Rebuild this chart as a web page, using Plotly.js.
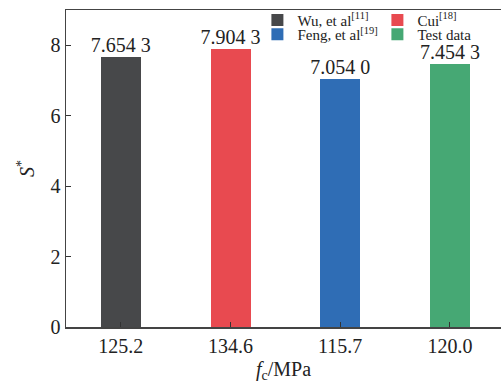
<!DOCTYPE html>
<html>
<head>
<meta charset="utf-8">
<script src="https://cdn.plot.ly/plotly-3.0.1.min.js"></script>
<style>html,body{margin:0;padding:0;background:#fff;}#chart{width:501px;height:385px;}</style>
</head>
<body>
<div id="chart"></div>
<script>
var categories = ['125.2', '134.6', '115.7', '120.0'];
var seriesNames = ['Wu, et al<sup>[11]</sup>', 'Cui<sup>[18]</sup>', 'Feng, et al<sup>[19]</sup>', 'Test data'];
var values = [7.6543, 7.9043, 7.0540, 7.4543];
var valueLabels = ['7.654 3', '7.904 3', '7.054 0', '7.454 3'];
var colors = ['#47484a', '#e84a50', '#2f6db5', '#46a874'];
var legendIds = ['legend', 'legend', 'legend2', 'legend2'];

var FONT = 'Liberation Serif';
var traces = categories.map(function (c, i) {
  return {
    type: 'bar',
    x: [c],
    y: [values[i]],
    name: seriesNames[i],
    legend: legendIds[i],
    marker: {color: colors[i], line: {width: 0}},
    width: 0.365
  };
});
traces.push({
  type: 'scatter',
  mode: 'text',
  x: categories,
  y: values,
  text: valueLabels,
  textposition: 'top center',
  textfont: {family: FONT, size: 20, color: '#222'},
  showlegend: false,
  cliponaxis: false,
  hoverinfo: 'skip'
});

var legendCommon = {
  orientation: 'h',
  xref: 'paper', yref: 'paper',
  xanchor: 'left', yanchor: 'top',
  font: {family: FONT, size: 15, color: '#222'},
  bgcolor: 'rgba(0,0,0,0)',
  entrywidth: 75,
  itemwidth: 30,
  tracegroupgap: 0
};

var layout = {
  width: 501, height: 385,
  margin: {l: 66, r: 0, t: 10, b: 58},
  paper_bgcolor: '#fff', plot_bgcolor: '#fff',
  font: {family: FONT, size: 20, color: '#222'},
  bargap: 0,
  showlegend: true,
  legend: Object.assign({}, legendCommon, {x: 0.44, y: 1.02}),
  legend2: Object.assign({}, legendCommon, {x: 0.44, y: 0.975}),
  xaxis: {
    type: 'category',
    categoryorder: 'array',
    categoryarray: categories,
    range: [-0.5, 3.466],
    showline: true, mirror: true,
    linecolor: '#444', linewidth: 1.5,
    ticks: 'inside', ticklen: 5, tickwidth: 1.2, tickcolor: '#333',
    tickfont: {family: FONT, size: 20, color: '#222'},
    showgrid: false, zeroline: false,
    title: {text: '<i>f</i><sub>c</sub>/MPa', font: {family: FONT, size: 20, color: '#222'}, standoff: 6}
  },
  yaxis: {
    range: [0, 9],
    tickvals: [0, 2, 4, 6, 8],
    showline: true, mirror: false,
    linecolor: '#444', linewidth: 1.5,
    ticks: 'inside', ticklen: 5, tickwidth: 1.2, tickcolor: '#333',
    tickfont: {family: FONT, size: 20, color: '#222'},
    showgrid: false, zeroline: false,
    title: {text: '<i>S</i><sup>*</sup>', font: {family: FONT, size: 20, color: '#222'}, standoff: 10}
  }
};

Plotly.newPlot('chart', traces, layout, {displayModeBar: false, staticPlot: true});
</script>
</body>
</html>
